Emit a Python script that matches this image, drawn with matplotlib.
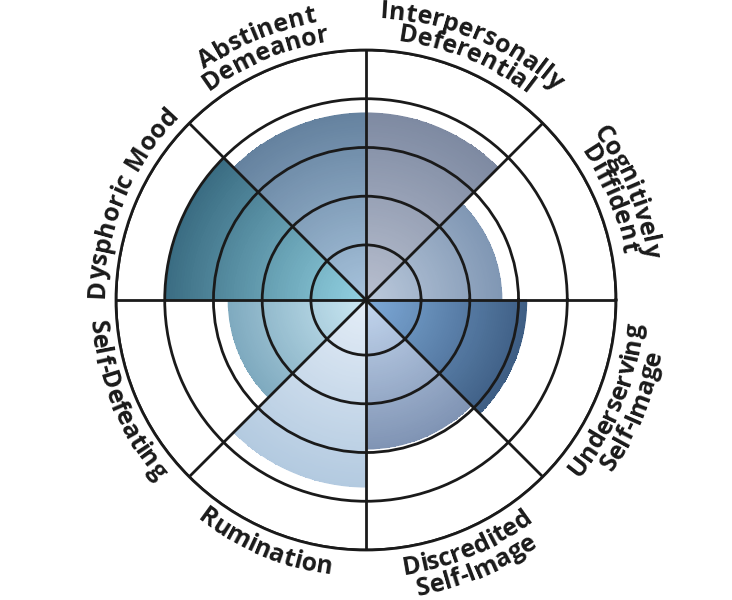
import numpy as np
import matplotlib
matplotlib.use("Agg")
import matplotlib.pyplot as plt
from matplotlib.colors import LinearSegmentedColormap
from matplotlib.font_manager import FontProperties

# sectors go counter-clockwise from 3 o'clock
labels = [["Cognitively", "Diffident"],
          ["Interpersonally", "Deferential"],
          ["Abstinent", "Demeanor"],
          ["Dysphoric Mood"],
          ["Self-Defeating"],
          ["Rumination"],
          ["Discredited", "Self-Image"],
          ["Underserving", "Self-Image"]]
scores = [2.66, 3.71, 3.71, 4.0, 2.70, 3.71, 2.93, 3.17]
rings = [1, 2, 3, 4, 5]
inner_colors = ["#bccadc", "#b8bfcf", "#a7c3dc", "#92d2e2",
                "#cbe8f3", "#e4edf7", "#c3d6ee", "#7eaad8"]
outer_colors = ["#8097b4", "#7e8aa2", "#65829f", "#3a6c82",
                "#7faabf", "#b3cae0", "#8094b4", "#3e5e84"]

R0 = -0.13      # centre of the chart
RMAX = 5
RPX = 250       # outer ring radius in pixels

fig = plt.figure(figsize=(7.32, 6), dpi=100)
ax = fig.add_axes([(366 - RPX) / 732, (300 - RPX) / 600, 2 * RPX / 732, 2 * RPX / 600],
                  projection="polar")
ax.set_ylim(R0, RMAX)

n = len(scores)
width = 2 * np.pi / n
for i in range(n):
    t0 = i * width
    cmap = LinearSegmentedColormap.from_list("w%d" % i, [inner_colors[i], outer_colors[i]])
    th = np.linspace(t0, t0 + width, 60)
    rr = np.linspace(R0, scores[i], 80)
    T, R = np.meshgrid(th, rr)
    C = (R[:-1, :-1] + R[1:, 1:]) / 2
    ax.pcolormesh(T, R, C, cmap=cmap, vmin=R0, vmax=scores[i],
                  shading="flat", antialiased=False, linewidth=0, zorder=1)
    # thin outline in the outer colour smooths the wedge rim
    ax.bar(t0 + width / 2, scores[i] - R0, width=width, bottom=R0,
           color="none", edgecolor=outer_colors[i], linewidth=0.6, zorder=1)

ax.set_axisbelow(False)
ax.set_rticks(rings)
ax.set_yticklabels([])
ax.set_thetagrids(np.arange(0, 360, 45), labels=[""] * 8)
ax.grid(True, color="#1a1a1a", linewidth=2.0)
ax.spines["polar"].set_color("#1a1a1a")
ax.spines["polar"].set_linewidth(2.0)
ax.tick_params(length=0)

fp = FontProperties(family=["Open Sans", "DejaVu Sans"], weight="bold", size=18)
renderer = fig.canvas.get_renderer()


def tw(s):
    if not s.strip():
        return 0.0
    return renderer.get_text_width_height_descent(s, fp, ismath=False)[0]


def curved_text(text, mid, r, top):
    total = tw(text)
    for k, ch in enumerate(text):
        if ch == " ":
            continue
        centre = tw(text[:k + 1]) - tw(ch) / 2
        s = centre - total / 2
        if top:
            th = mid - s / r
            rot = np.degrees(th) - 90
        else:
            th = mid + s / r
            rot = np.degrees(th) + 90
        x = 0.5 + r * np.cos(th) / (2 * RPX)
        y = 0.5 + r * np.sin(th) / (2 * RPX)
        ax.text(x, y, ch, transform=ax.transAxes, fontproperties=fp,
                rotation=rot, rotation_mode="anchor", ha="center", va="baseline",
                color="#1a1a1a")


for i, lines in enumerate(labels):
    mid = (i + 0.5) * width
    top = np.sin(mid) > 0
    if top:
        radii = [262] if len(lines) == 1 else [282, 261]
    else:
        radii = [277] if len(lines) == 1 else [277, 300]
    for line, r in zip(lines, radii):
        curved_text(line, mid, r, top)

fig.savefig("out.png", dpi=100)
